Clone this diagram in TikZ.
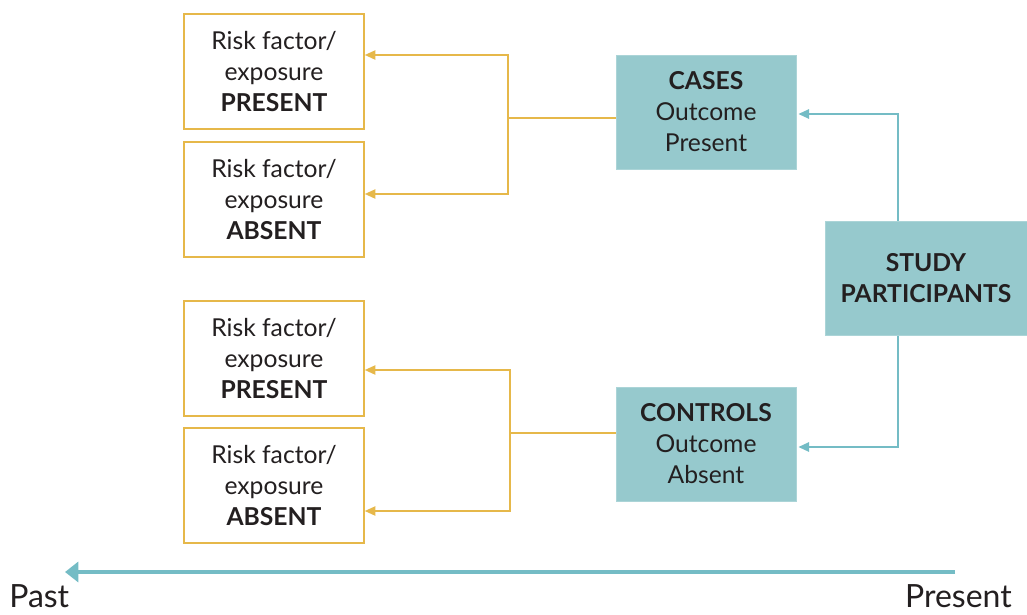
\documentclass[tikz,border=0pt]{standalone}
\usepackage{fontspec}
\setmainfont{Lato}
\usetikzlibrary{arrows.meta}
\definecolor{gold}{HTML}{E6B84A}
\definecolor{tealfill}{HTML}{96C9CD}
\definecolor{tealline}{HTML}{74BCC5}
\definecolor{ink}{HTML}{231F20}
\begin{document}
\begin{tikzpicture}[x=0.75pt,y=-0.75pt,
  every node/.style={text=ink,font=\fontsize{18.5}{23.3}\selectfont,align=center,inner sep=0pt},
  riskbox/.style={draw=gold,line width=1.2pt,fill=white,minimum width=135pt,minimum height=86pt},
  tealbox/.style={fill=tealfill,draw=tealfill!80!white,line width=0.6pt,minimum width=135pt,minimum height=85.5pt},
  goldarrow/.style={draw=gold,line width=1.2pt,-{Triangle[length=8pt,width=7pt]}},
  goldline/.style={draw=gold,line width=1.2pt},
  tealarrow/.style={draw=tealline,line width=1.4pt,-{Triangle[length=8pt,width=7pt]}},
  timearrow/.style={draw=tealline,line width=3pt,-{Triangle[length=10pt,width=15pt]}},
  timelabel/.style={font=\fontsize{24}{28}\selectfont,text depth=0pt,text height=17pt,align=left}]
\useasboundingbox (0,0) rectangle (1027,614);
% risk boxes
\node[riskbox] (r1) at (274,71.5) {Risk factor/\\exposure\\\textbf{PRESENT}};
\node[riskbox] (r2) at (274,199.5) {Risk factor/\\exposure\\\textbf{ABSENT}};
\node[riskbox] (r3) at (274,358.5) {Risk factor/\\exposure\\\textbf{PRESENT}};
\node[riskbox] (r4) at (274,485.5) {Risk factor/\\exposure\\\textbf{ABSENT}};
% teal boxes
\node[tealbox] (cases) at (706,112) {\textbf{CASES}\\Outcome\\Present};
\node[tealbox] (controls) at (706,444) {\textbf{CONTROLS}\\Outcome\\Absent};
\node[tealbox,minimum width=151.5pt,minimum height=86pt] (study) at (926,278.5) {\textbf{STUDY}\\\textbf{PARTICIPANTS}};
% junction coordinates
\coordinate (ju) at (508,118);
\coordinate (jl) at (510,433);
% gold connectors upper
\draw[goldline] (cases.west |- ju) -- (ju);
\draw[goldarrow] (ju) |- (r1.east |- 0,55);
\draw[goldarrow] (ju) |- (r2.east |- 0,194);
% gold connectors lower
\draw[goldline] (controls.west |- jl) -- (jl);
\draw[goldarrow] (jl) |- (r3.east |- 0,370);
\draw[goldarrow] (jl) |- (r4.east |- 0,511);
% teal connectors
\draw[tealarrow] (study.north -| 898,0) |- ([xshift=1.5pt]cases.east |- 0,114);
\draw[tealarrow] (study.south -| 898,0) |- ([xshift=1.5pt]controls.east |- 0,447);
% timeline
\coordinate (tstart) at (955,572);
\coordinate (tend) at (65,572);
\draw[timearrow] (tstart) -- (tend);
\node[timelabel,anchor=base west] (past) at (9,607) {Past};
\node[timelabel,anchor=base east] (present) at (1012,607) {Present};
\end{tikzpicture}
\end{document}
